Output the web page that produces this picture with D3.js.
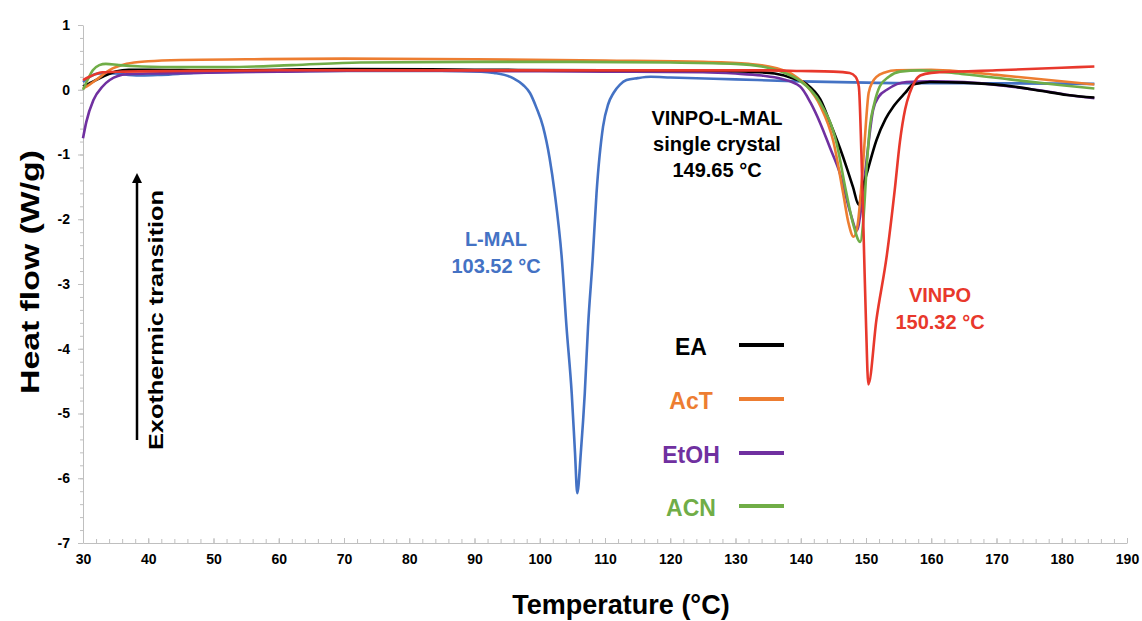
<!DOCTYPE html>
<html>
<head>
<meta charset="utf-8">
<script src="https://cdn.jsdelivr.net/npm/d3@7"></script>
<style>
    body { margin: 0; background: #fff; }
    text { font-family: "Liberation Sans", Arial, sans-serif; font-weight: bold; }
</style>
</head>
<body>
<svg id="chart"></svg>
<script>
// DSC curves, [temperature (°C), heat flow (W/g)]
const lmal = [[30,0.12],[31,0.2],[32.5,0.25],[35,0.25],[37,0.23],[39,0.22],[42,0.23],[47,0.26],[55,0.28],[70,0.29],[85,0.29],[91,0.28],[93,0.26],[95.9,0.18],[97.5,0.07],[98.5,-0.05],[99.5,-0.28],[100.5,-0.57],[101.5,-1.05],[102.3,-1.6],[103.4,-2.63],[104.1,-3.66],[104.9,-4.69],[105.4,-5.6],[105.75,-6.23],[106.3,-5.6],[106.9,-4.69],[107.4,-3.66],[108.1,-2.63],[108.7,-1.6],[109.7,-0.57],[110.5,-0.22],[111.3,-0.05],[112.3,0.08],[113.3,0.15],[115,0.18],[117,0.2],[120,0.19],[130,0.16],[140,0.13],[150,0.11],[160,0.1],[170,0.1],[185,0.09]];
const vinpo = [[30,0.15],[31,0.2],[33,0.27],[36,0.28],[45,0.29],[60,0.3],[80,0.3],[100,0.3],[120,0.3],[135,0.3],[140,0.29],[145,0.28],[147.5,0.26],[148.4,0.2],[148.9,0.05],[149.3,-1.0],[149.7,-2.5],[150.0,-3.6],[150.36,-4.55],[151.6,-3.55],[153.2,-2.55],[154.4,-1.55],[155.2,-0.8],[156,-0.3],[156.7,-0.05],[157.5,0.13],[158.3,0.22],[160,0.26],[170,0.3],[180,0.34],[185,0.36]];
const ea = [[30,0.05],[31,0.1],[33,0.2],[35,0.28],[37,0.31],[40,0.31],[50,0.3],[60,0.31],[70,0.32],[90,0.31],[110,0.3],[125,0.3],[132,0.28],[136,0.25],[139,0.17],[141,0.08],[143,-0.15],[144.5,-0.51],[146,-0.9],[147,-1.19],[148,-1.5],[148.9,-1.78],[149.4,-1.55],[150.1,-1.3],[151.6,-0.78],[153,-0.45],[154.2,-0.26],[156,-0.05],[157.2,0.08],[159.8,0.12],[165,0.11],[172.6,0.05],[177,-0.02],[180.8,-0.08],[185,-0.12]];
const act = [[30,0.02],[31,0.08],[32,0.15],[34,0.3],[36.7,0.4],[40,0.44],[45,0.46],[55,0.47],[70,0.48],[90,0.47],[110,0.45],[125,0.43],[132,0.4],[136,0.34],[139,0.22],[141,0.05],[143,-0.25],[145,-0.8],[146.5,-1.6],[147.3,-2.05],[148.1,-2.27],[148.7,-2.1],[149.2,-1.6],[149.6,-1.08],[150,-0.5],[150.4,-0.05],[151,0.12],[151.6,0.2],[153,0.27],[154.7,0.3],[160,0.31],[165,0.28],[170,0.23],[178,0.15],[185,0.08]];
const etoh = [[30,-0.75],[30.5,-0.5],[31.6,-0.16],[33,0.05],[34.1,0.15],[36.7,0.24],[40,0.25],[47,0.26],[60,0.28],[75,0.3],[90,0.29],[110,0.28],[125,0.27],[130,0.25],[134,0.22],[137,0.17],[139.9,0.05],[141.5,-0.2],[143,-0.52],[144.5,-0.9],[146,-1.29],[147.6,-1.9],[148.6,-2.17],[149.3,-1.8],[150.1,-1.08],[151.1,-0.31],[152,-0.1],[153.2,0.0],[156.2,0.12],[160,0.13],[165,0.12],[172,0.05],[178,-0.03],[181,-0.08],[185,-0.13]];
const acn = [[30,0.0],[30.7,0.15],[31.5,0.3],[32.5,0.38],[33.5,0.4],[35.5,0.38],[39,0.36],[45,0.35],[52,0.35],[62,0.38],[72.5,0.42],[90,0.43],[105,0.43],[120,0.42],[130,0.4],[134,0.36],[137,0.28],[140,0.13],[141.5,0.0],[143,-0.2],[145.5,-0.83],[147,-1.6],[148.1,-2.1],[149.1,-2.35],[149.6,-2.0],[150.1,-1.2],[150.6,-0.57],[151.3,-0.2],[152.1,0.05],[153.5,0.2],[155.2,0.28],[158.3,0.3],[165,0.24],[172,0.16],[180,0.07],[185,0.02]];

const xTicks = [30, 40, 50, 60, 70, 80, 90, 100, 110, 120, 130, 140, 150, 160, 170, 180, 190];
const yTicks = [1, 0, -1, -2, -3, -4, -5, -6, -7];
const legendNames = ['EA', 'AcT', 'EtOH', 'ACN'];

const colors = {
    black: '#000000',
    orange: '#ed7d31',
    purple: '#7030a0',
    green: '#70ad47',
    blue: '#4472c4',
    red: '#e8382c'
};

const width = 1142;
const height = 621;
const svg = d3.select('#chart').attr('width', width).attr('height', height);
svg.append('rect').attr('width', width).attr('height', height).attr('fill', '#fff');

const x = d3.scaleLinear().domain([30, 190]).range([83, 1127]);
const y = d3.scaleLinear().domain([-7, 1]).range([543, 25]);

// minor ticks first, then the labelled axes
const xMinor = svg.append('g').attr('transform', 'translate(0,' + y(-7) + ')')
    .call(d3.axisBottom(x).tickValues(d3.range(30, 190.1, 2)).tickSizeInner(-4).tickSizeOuter(0).tickFormat(''));
const yMinor = svg.append('g').attr('transform', 'translate(' + x(30) + ',0)')
    .call(d3.axisLeft(y).tickValues(d3.range(-7, 1.01, 0.2)).tickSizeInner(3).tickSizeOuter(0).tickFormat(''));
const xAxis = svg.append('g').attr('transform', 'translate(0,' + y(-7) + ')')
    .call(d3.axisBottom(x).tickValues(xTicks).tickSizeInner(-5).tickSizeOuter(0).tickPadding(11));
const yAxis = svg.append('g').attr('transform', 'translate(' + x(30) + ',0)')
    .call(d3.axisLeft(y).tickValues(yTicks).tickSizeInner(5).tickSizeOuter(0).tickPadding(8)
        .tickFormat((d) => String(d)));
[xMinor, yMinor, xAxis, yAxis].forEach((g) => {
    g.selectAll('path, line').attr('stroke', '#bfbfbf');
    g.selectAll('text').attr('fill', '#000').style('font-size', '14px')
        .style('font-family', '"Liberation Sans", Arial, sans-serif').style('font-weight', 'bold');
});
xMinor.select('path.domain').remove();
yMinor.select('path.domain').remove();

// curves
const line = d3.line()
    .x((d) => x(d[0]))
    .y((d) => y(d[1]))
    .curve(d3.curveMonotoneX);
const series = [
    { data: lmal, color: colors.blue },
    { data: etoh, color: colors.purple },
    { data: ea, color: colors.black },
    { data: act, color: colors.orange },
    { data: acn, color: colors.green },
    { data: vinpo, color: colors.red }
];
svg.append('g').selectAll('path')
    .data(series)
    .enter().append('path')
    .attr('d', (s) => line(s.data))
    .attr('fill', 'none')
    .attr('stroke', (s) => s.color)
    .attr('stroke-width', 2.6)
    .attr('stroke-linejoin', 'round');

// axis titles
svg.append('text')
    .attr('x', 621).attr('y', 614)
    .attr('text-anchor', 'middle')
    .style('font-size', '27px')
    .text('Temperature (°C)');
svg.append('text')
    .attr('transform', 'translate(39,272) rotate(-90)')
    .attr('text-anchor', 'middle')
    .attr('textLength', 244).attr('lengthAdjust', 'spacingAndGlyphs')
    .style('font-size', '26px')
    .text('Heat flow (W/g)');

// exothermic arrow
svg.append('defs').append('marker')
    .attr('id', 'arrow')
    .attr('viewBox', '0 0 10 10')
    .attr('refX', 5).attr('refY', 5)
    .attr('markerWidth', 4).attr('markerHeight', 4)
    .attr('orient', 'auto')
    .append('path').attr('d', 'M0,0 L10,5 L0,10 z').attr('fill', '#000');
svg.append('line')
    .attr('x1', 137).attr('y1', 440)
    .attr('x2', 137).attr('y2', 178)
    .attr('stroke', '#000').attr('stroke-width', 2.5)
    .attr('marker-end', 'url(#arrow)');
svg.append('text')
    .attr('transform', 'translate(163,320) rotate(-90)')
    .attr('text-anchor', 'middle')
    .attr('textLength', 260).attr('lengthAdjust', 'spacingAndGlyphs')
    .style('font-size', '21px')
    .text('Exothermic transition');

// peak annotations
const addLabel = (cx, lines, baseline, step, color) => {
    lines.forEach((t, i) => {
        svg.append('text')
            .attr('x', cx).attr('y', baseline + i * step)
            .attr('text-anchor', 'middle')
            .attr('fill', color)
            .style('font-size', '20px')
            .text(t);
    });
};
addLabel(496, ['L-MAL', '103.52 °C'], 246, 27, colors.blue);
addLabel(717, ['VINPO-L-MAL', 'single crystal', '149.65 °C'], 125, 26, colors.black);
addLabel(940, ['VINPO', '150.32 °C'], 302, 27, colors.red);

// legend
const legendColors = [colors.black, colors.orange, colors.purple, colors.green];
const legendY = [345, 399, 453, 506];
const legend = svg.append('g').selectAll('g')
    .data(legendNames)
    .enter().append('g');
legend.append('text')
    .attr('x', 691)
    .attr('y', (d, i) => legendY[i] + 10)
    .attr('text-anchor', 'middle')
    .attr('fill', (d, i) => legendColors[i])
    .style('font-size', '23px')
    .text((d) => d);
legend.append('line')
    .attr('x1', 739).attr('x2', 784)
    .attr('y1', (d, i) => legendY[i])
    .attr('y2', (d, i) => legendY[i])
    .attr('stroke', (d, i) => legendColors[i])
    .attr('stroke-width', 4);
</script>
</body>
</html>
